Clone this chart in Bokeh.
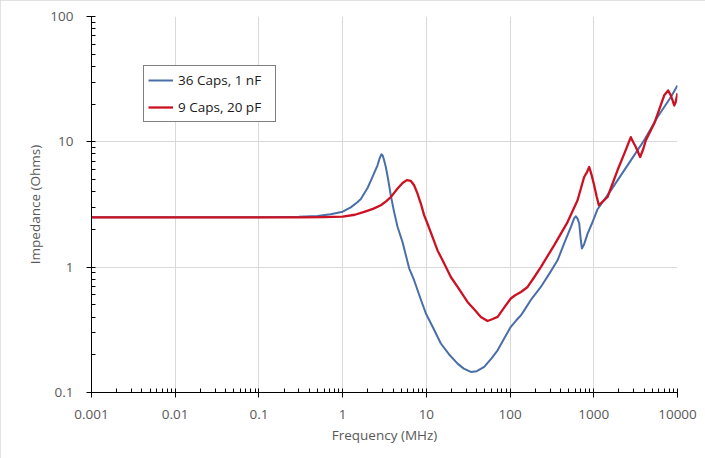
from bokeh.plotting import figure
from bokeh.models import FixedTicker, CustomJSTickFormatter, Legend, LegendItem
from bokeh.embed import file_html
from bokeh.resources import INLINE

# ---- data ----
blue_label = "36 Caps, 1 nF"
blue_freq = [0.001, 0.01, 0.1, 0.2, 0.3, 0.5, 0.72, 1.0, 1.25, 1.5, 1.65, 1.99, 2.2, 2.45, 2.61,
             2.75, 2.9, 3.0, 3.1, 3.28, 3.5, 3.76, 4.1, 4.53, 5.2, 6.23, 7.14, 8.4, 9.87, 12,
             14.9, 18.5, 23.6, 28, 34, 40, 49.1, 60, 71, 85, 102, 118, 135, 147, 180, 233,
             300, 369, 450, 532, 580, 611, 640, 670, 700, 721, 760, 844, 950, 1110, 1600,
             2770, 4000, 5780, 8340, 10000]
blue_imp = [2.5, 2.5, 2.5, 2.51, 2.52, 2.56, 2.64, 2.77, 3.0, 3.3, 3.5, 4.3, 5.0, 5.9, 6.5,
            7.3, 7.95, 7.8, 7.3, 6.3, 5.0, 3.74, 2.8, 2.09, 1.58, 0.98, 0.787, 0.575, 0.427, 0.33,
            0.246, 0.203, 0.17, 0.155, 0.146, 0.148, 0.16, 0.187, 0.217, 0.27, 0.334, 0.375, 0.413, 0.45, 0.557, 0.695,
            0.905, 1.135, 1.59, 2.09, 2.44, 2.55, 2.44, 2.23, 1.64, 1.41, 1.5, 1.85, 2.23, 2.9, 4.1,
            7.12, 10.3, 15.8, 22.8, 28.2]

red_label = "9 Caps, 20 pF"
red_freq = [0.001, 0.01, 0.1, 0.3, 0.6, 1.0, 1.4, 1.81, 2.3, 2.86, 3.3, 3.77, 4.1, 4.53, 5.2,
            5.85, 6.53, 7.14, 7.8, 8.59, 9.4, 10.3, 11.8, 13.6, 16, 19.6, 24.5, 31, 37, 44.8,
            53.8, 62, 71, 85, 102, 115, 135, 162, 195, 233, 337, 486, 640, 767, 830, 881, 940,
            1010, 1080, 1150, 1280, 1460, 1920, 2400, 2770, 2950, 3180, 3580, 3900, 4190, 5270,
            6940, 7740, 8300, 8740, 9140, 9500, 10000]
red_imp = [2.5, 2.5, 2.5, 2.5, 2.51, 2.53, 2.62, 2.76, 2.92, 3.12, 3.35, 3.63, 3.9, 4.24, 4.69,
           4.95, 4.87, 4.5, 3.9, 3.22, 2.6, 2.23, 1.75, 1.36, 1.1, 0.835, 0.67, 0.528, 0.464, 0.401,
           0.372, 0.386, 0.401, 0.476, 0.562, 0.597, 0.634, 0.695, 0.835, 1.0, 1.5, 2.29, 3.42, 5.24, 5.74, 6.3, 5.47,
           4.5, 3.68, 3.12, 3.34, 3.63, 5.93, 8.55, 10.9, 9.96, 9.1, 7.57, 8.77, 10.3, 14.0,
           23.5, 25.7, 23.5, 21.4, 19.5, 20.7, 24.4]

x_ticks = [0.001, 0.01, 0.1, 1, 10, 100, 1000, 10000]
x_tick_labels = ["0.001", "0.01", "0.1", "1", "10", "100", "1000", "10000"]
y_ticks = [0.1, 1, 10, 100]
y_tick_labels = ["0.1", "1", "10", "100"]

x_title = "Frequency (MHz)"
y_title = "Impedance (Ohms)"

BLUE = "#4A6EA8"
RED = "#CC1122"
FONT = "Open Sans"
GRAY = "#595959"

p = figure(width=705, height=458, x_axis_type="log", y_axis_type="log",
           x_range=(0.001, 10000), y_range=(0.1, 100),
           output_backend="svg", toolbar_location=None,
           min_border_left=91, min_border_right=28, min_border_top=16, min_border_bottom=66)
p.outline_line_color = None
p.background_fill_color = "white"
p.border_fill_color = "white"
p.styles = {"outline": "1px solid #d9d9d9", "outline-offset": "-1px"}


def minors(ticks):
    out = []
    for t in ticks[:-1]:
        out += [t * k for k in range(2, 10)]
    return out


p.xaxis[0].ticker = FixedTicker(ticks=x_ticks, minor_ticks=minors(x_ticks))
p.yaxis[0].ticker = FixedTicker(ticks=y_ticks, minor_ticks=minors(y_ticks))

fmt_code = """
const i = tv.findIndex(t => Math.abs(Math.log10(t) - Math.log10(tick)) < 1e-6);
return i >= 0 ? tl[i] : '';
"""
p.xaxis[0].formatter = CustomJSTickFormatter(args=dict(tv=x_ticks, tl=x_tick_labels), code=fmt_code)
p.yaxis[0].formatter = CustomJSTickFormatter(args=dict(tv=y_ticks, tl=y_tick_labels), code=fmt_code)

p.xaxis.axis_label = x_title
p.yaxis.axis_label = y_title

for ax in (p.xaxis[0], p.yaxis[0]):
    ax.axis_line_color = "black"
    ax.axis_line_width = 1
    ax.major_tick_line_color = "black"
    ax.minor_tick_line_color = "black"
    ax.major_tick_in = 4
    ax.major_tick_out = 5
    ax.minor_tick_in = 4
    ax.minor_tick_out = 0
    ax.major_label_text_font = FONT
    ax.major_label_text_font_size = "13.5px"
    ax.major_label_text_color = GRAY
    ax.axis_label_text_font = FONT
    ax.axis_label_text_font_size = "13.5px"
    ax.axis_label_text_font_style = "normal"
    ax.axis_label_text_color = GRAY

p.xaxis[0].major_label_standoff = 12
p.xaxis[0].axis_label_standoff = 4
p.yaxis[0].major_label_standoff = 13
p.yaxis[0].axis_label_standoff = 3

p.xgrid.grid_line_color = "#d9d9d9"
p.ygrid.grid_line_color = "#d9d9d9"
p.xgrid.grid_line_width = 1
p.ygrid.grid_line_width = 1

rb = p.line(blue_freq, blue_imp, line_color=BLUE, line_width=2, line_join="round")
rr = p.line(red_freq, red_imp, line_color=RED, line_width=2.3, line_join="round")

legend = Legend(items=[LegendItem(label=blue_label, renderers=[rb]),
                       LegendItem(label=red_label, renderers=[rr])])
legend.location = (52, 270)
legend.padding = 4
legend.spacing = 7
legend.glyph_width = 25
legend.glyph_height = 20
legend.label_height = 20
legend.label_width = 93
legend.label_standoff = 5
legend.label_text_font = FONT
legend.label_text_font_size = "13.5px"
legend.label_text_color = "#1a1a1a"
legend.border_line_color = "black"
legend.border_line_width = 1
legend.background_fill_color = "white"
legend.background_fill_alpha = 1
legend.margin = 0
p.add_layout(legend)

open("out.html", "w").write(file_html(p, INLINE))
